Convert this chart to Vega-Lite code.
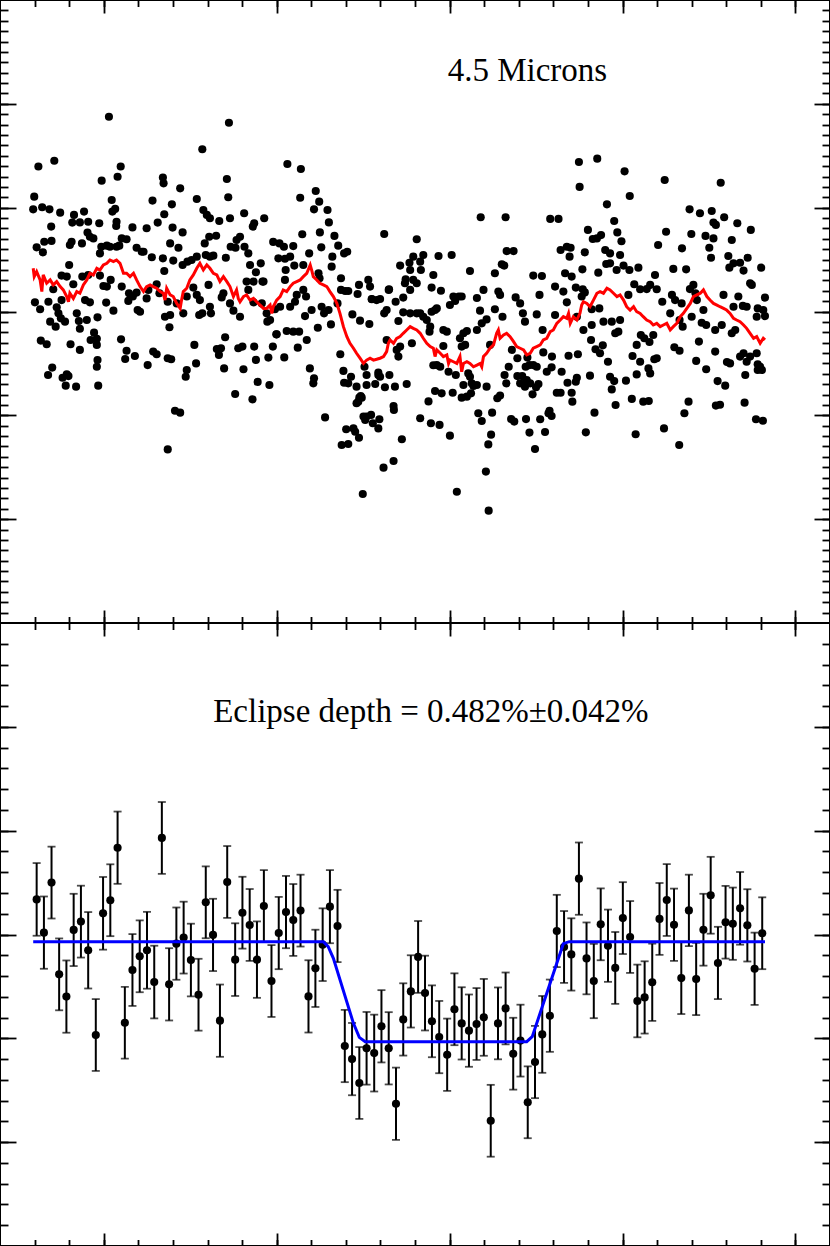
{
"$schema":"https://vega.github.io/schema/vega-lite/v6.json",
"padding":{"left":-2,"top":-2,"right":0,"bottom":0},
"background":"white",
"spacing":0,
"bounds":"flush",
"config":{"view":{"stroke":"black","strokeWidth":2},"axis":{"domain":false,"labels":false,"grid":false,"ticks":true,"tickColor":"black","tickWidth":1.8,"minExtent":0,"maxExtent":0,"titlePadding":0}},
"datasets":{
"top":[
{"phase":0.4015,"flux":9.38},{"phase":0.3811,"flux":6.98},{"phase":0.3857,"flux":7.26},{"phase":0.4285,"flux":7.81},{"phase":0.4362,"flux":9.09},{"phase":0.3994,"flux":6.30},{"phase":0.4040,"flux":6.49},{"phase":0.4049,"flux":6.98},{"phase":0.4171,"flux":6.45},{"phase":0.4173,"flux":6.17},{"phase":0.4221,"flux":5.93},{"phase":0.4356,"flux":6.38},{"phase":0.4531,"flux":7.10},{"phase":0.4570,"flux":6.86},{"phase":0.3799,"flux":5.53},{"phase":0.3796,"flux":4.92},{"phase":0.3822,"flux":5.02},{"phase":0.3843,"flux":4.92},{"phase":0.3874,"flux":4.76},{"phase":0.3943,"flux":4.81},{"phase":0.3914,"flux":4.65},{"phase":0.3909,"flux":4.28},{"phase":0.3931,"flux":4.29},{"phase":0.3955,"flux":4.32},{"phase":0.3987,"flux":4.25},{"phase":0.4023,"flux":5.37},{"phase":0.4033,"flux":4.94},{"phase":0.4025,"flux":4.81},{"phase":0.4037,"flux":4.32},{"phase":0.4036,"flux":4.12},{"phase":0.4083,"flux":4.05},{"phase":0.4124,"flux":4.01},{"phase":0.4141,"flux":5.34},{"phase":0.4156,"flux":4.28},{"phase":0.4175,"flux":4.68},{"phase":0.4197,"flux":5.16},{"phase":0.4199,"flux":4.04},{"phase":0.4228,"flux":3.81},{"phase":0.4269,"flux":5.42},{"phase":0.4288,"flux":4.89},{"phase":0.4298,"flux":4.65},{"phase":0.4307,"flux":4.49},{"phase":0.4334,"flux":4.36},{"phase":0.4360,"flux":5.50},{"phase":0.4365,"flux":4.49},{"phase":0.4406,"flux":4.73},{"phase":0.4435,"flux":4.25},{"phase":0.4431,"flux":4.09},{"phase":0.4464,"flux":4.49},{"phase":0.4568,"flux":5.48},{"phase":0.4613,"flux":5.80},{"phase":0.4623,"flux":5.29},{"phase":0.4608,"flux":4.92},{"phase":0.4647,"flux":4.89},{"phase":0.4651,"flux":4.29},{"phase":0.4625,"flux":3.81},{"phase":0.4574,"flux":3.72},{"phase":0.4667,"flux":3.64},{"phase":0.3848,"flux":4.09},{"phase":0.3849,"flux":3.40},{"phase":0.3828,"flux":3.36},{"phase":0.3806,"flux":3.09},{"phase":0.3824,"flux":2.85},{"phase":0.3902,"flux":3.20},{"phase":0.3907,"flux":3.36},{"phase":0.3937,"flux":3.28},{"phase":0.3953,"flux":3.80},{"phase":0.3970,"flux":3.52},{"phase":0.3960,"flux":3.60},{"phase":0.3989,"flux":2.80},{"phase":0.3993,"flux":3.12},{"phase":0.4009,"flux":3.17},{"phase":0.4018,"flux":3.12},{"phase":0.4037,"flux":3.12},{"phase":0.4045,"flux":3.17},{"phase":0.4052,"flux":3.52},{"phase":0.4066,"flux":3.48},{"phase":0.4095,"flux":3.07},{"phase":0.4110,"flux":2.88},{"phase":0.4139,"flux":2.61},{"phase":0.4115,"flux":2.88},{"phase":0.4171,"flux":2.56},{"phase":0.4175,"flux":1.95},{"phase":0.4201,"flux":2.45},{"phase":0.4192,"flux":3.28},{"phase":0.4216,"flux":3.07},{"phase":0.4228,"flux":2.24},{"phase":0.4242,"flux":2.40},{"phase":0.4254,"flux":2.48},{"phase":0.4269,"flux":2.64},{"phase":0.4292,"flux":3.28},{"phase":0.4305,"flux":3.60},{"phase":0.4325,"flux":3.65},{"phase":0.4295,"flux":2.72},{"phase":0.4307,"flux":2.64},{"phase":0.4317,"flux":2.69},{"phase":0.4353,"flux":2.59},{"phase":0.4367,"flux":3.12},{"phase":0.4384,"flux":3.44},{"phase":0.4381,"flux":3.07},{"phase":0.4394,"flux":3.60},{"phase":0.4407,"flux":3.12},{"phase":0.4418,"flux":2.80},{"phase":0.4423,"flux":2.24},{"phase":0.4454,"flux":2.32},{"phase":0.4440,"flux":1.89},{"phase":0.4459,"flux":1.44},{"phase":0.4490,"flux":3.35},{"phase":0.4508,"flux":3.28},{"phase":0.4521,"flux":3.12},{"phase":0.4548,"flux":3.15},{"phase":0.4524,"flux":2.54},{"phase":0.4505,"flux":2.56},{"phase":0.4539,"flux":2.64},{"phase":0.4526,"flux":2.00},{"phase":0.4551,"flux":2.21},{"phase":0.4577,"flux":2.24},{"phase":0.4594,"flux":2.80},{"phase":0.4629,"flux":3.09},{"phase":0.4661,"flux":2.64},{"phase":0.4678,"flux":3.17},{"phase":0.4704,"flux":2.88},{"phase":0.4695,"flux":2.80},{"phase":0.4686,"flux":1.60},{"phase":0.4698,"flux":0.99},{"phase":0.4659,"flux":2.16},{"phase":0.4624,"flux":1.60},{"phase":0.4738,"flux":1.28},{"phase":0.4734,"flux":0.84},{"phase":0.4765,"flux":1.52},{"phase":0.4770,"flux":1.20},{"phase":0.4775,"flux":0.60},{"phase":0.4799,"flux":0.60},{"phase":0.4824,"flux":1.04},{"phase":0.4811,"flux":3.73},{"phase":0.4857,"flux":2.21},{"phase":0.4873,"flux":1.55},{"phase":0.4884,"flux":2.35},{"phase":0.4871,"flux":1.36},
{"phase":0.3801,"flux":0.44},{"phase":0.3816,"flux":0.11},{"phase":0.3840,"flux":0.47},{"phase":0.3854,"flux":1.07},{"phase":0.3864,"flux":0.20},{"phase":0.3869,"flux":-0.09},{"phase":0.3876,"flux":-0.33},{"phase":0.3888,"flux":-0.49},{"phase":0.3861,"flux":-0.73},{"phase":0.3845,"flux":-0.49},{"phase":0.3878,"flux":0.55},{"phase":0.3900,"flux":2.24},{"phase":0.3878,"flux":1.73},{"phase":0.3893,"flux":1.68},{"phase":0.3912,"flux":1.31},{"phase":0.3922,"flux":-0.09},{"phase":0.3928,"flux":-0.46},{"phase":0.3931,"flux":-0.83},{"phase":0.3951,"flux":-0.41},{"phase":0.3946,"flux":0.55},{"phase":0.3960,"flux":0.44},{"phase":0.3938,"flux":1.68},{"phase":0.3955,"flux":1.76},{"phase":0.3989,"flux":1.73},{"phase":0.3999,"flux":1.23},{"phase":0.4009,"flux":1.20},{"phase":0.4020,"flux":1.52},{"phase":0.4007,"flux":0.43},{"phase":0.4028,"flux":0.04},{"phase":0.3982,"flux":-0.28},{"phase":0.3972,"flux":-1.02},{"phase":0.3980,"flux":-1.31},{"phase":0.4052,"flux":1.20},{"phase":0.4073,"flux":0.88},{"phase":0.4071,"flux":0.51},{"phase":0.4084,"flux":0.72},{"phase":0.4095,"flux":0.91},{"phase":0.4098,"flux":0.07},{"phase":0.4105,"flux":-0.01},{"phase":0.4124,"flux":0.63},{"phase":0.4129,"flux":1.04},{"phase":0.4153,"flux":1.31},{"phase":0.4161,"flux":0.88},{"phase":0.4185,"flux":0.47},{"phase":0.4211,"flux":0.39},{"phase":0.4230,"flux":-0.09},{"phase":0.4177,"flux":-0.25},{"phase":0.4192,"flux":-0.17},{"phase":0.4190,"flux":-0.76},{"phase":0.4240,"flux":0.72},{"phase":0.4259,"flux":1.15},{"phase":0.4269,"flux":0.80},{"phase":0.4278,"flux":0.55},{"phase":0.4285,"flux":-0.09},{"phase":0.4276,"flux":-0.17},{"phase":0.4307,"flux":0.23},{"phase":0.4310,"flux":-0.09},{"phase":0.4303,"flux":1.28},{"phase":0.4341,"flux":0.68},{"phase":0.4346,"flux":0.88},{"phase":0.4365,"flux":0.39},{"phase":0.4394,"flux":-0.25},{"phase":0.4375,"flux":0.04},{"phase":0.4413,"flux":1.44},{"phase":0.4433,"flux":1.44},{"phase":0.4418,"flux":1.04},{"phase":0.4433,"flux":0.44},{"phase":0.4462,"flux":1.44},{"phase":0.4457,"flux":0.39},{"phase":0.4471,"flux":-0.09},{"phase":0.4473,"flux":-0.49},{"phase":0.4481,"flux":-0.41},{"phase":0.4495,"flux":0.11},{"phase":0.4510,"flux":0.23},{"phase":0.4524,"flux":1.52},{"phase":0.4558,"flux":0.80},{"phase":0.4553,"flux":0.47},{"phase":0.4539,"flux":0.23},{"phase":0.4577,"flux":1.04},{"phase":0.4585,"flux":0.72},{"phase":0.4582,"flux":-0.22},{"phase":0.4601,"flux":0.07},{"phase":0.4548,"flux":-0.97},{"phase":0.4529,"flux":-0.94},{"phase":0.4565,"flux":-0.97},{"phase":0.4500,"flux":-1.10},{"phase":0.4621,"flux":1.84},{"phase":0.4630,"flux":0.23},{"phase":0.4637,"flux":-0.09},{"phase":0.4650,"flux":0.07},{"phase":0.4657,"flux":-0.62},{"phase":0.4676,"flux":0.39},{"phase":0.4686,"flux":1.04},{"phase":0.4707,"flux":0.99},{"phase":0.4719,"flux":-0.14},{"phase":0.4741,"flux":-0.44},{"phase":0.4768,"flux":-0.60},{"phase":0.4775,"flux":0.59},{"phase":0.4789,"flux":0.55},{"phase":0.4811,"flux":-0.09},{"phase":0.4818,"flux":0.07},{"phase":0.4825,"flux":1.07},{"phase":0.4852,"flux":-0.46},{"phase":0.4866,"flux":-0.04},{"phase":0.4886,"flux":-0.09},{"phase":0.4844,"flux":0.47},{"phase":0.4866,"flux":0.67},
{"phase":0.3818,"flux":-1.40},{"phase":0.3835,"flux":-1.58},{"phase":0.3904,"flux":-1.58},{"phase":0.3931,"flux":-1.85},{"phase":0.3962,"flux":-1.37},{"phase":0.3980,"flux":-1.61},{"phase":0.4050,"flux":-1.34},{"phase":0.4066,"flux":-1.89},{"phase":0.4062,"flux":-2.29},{"phase":0.4090,"flux":-2.14},{"phase":0.4127,"flux":-2.58},{"phase":0.4143,"flux":-1.93},{"phase":0.4153,"flux":-2.06},{"phase":0.4185,"flux":-2.25},{"phase":0.4195,"flux":-2.30},{"phase":0.4262,"flux":-1.61},{"phase":0.4267,"flux":-2.50},{"phase":0.4240,"flux":-2.82},{"phase":0.4237,"flux":-3.14},{"phase":0.4327,"flux":-1.81},{"phase":0.4333,"flux":-2.09},{"phase":0.4339,"flux":-1.77},{"phase":0.4348,"flux":-2.74},{"phase":0.4351,"flux":-1.24},{"phase":0.4389,"flux":-1.77},{"phase":0.4401,"flux":-1.69},{"phase":0.4404,"flux":-2.78},{"phase":0.4435,"flux":-1.69},{"phase":0.4440,"flux":-2.33},{"phase":0.4476,"flux":-2.22},{"phase":0.4479,"flux":-3.54},{"phase":0.4489,"flux":-1.69},{"phase":0.4499,"flux":-1.10},{"phase":0.4522,"flux":-2.21},{"phase":0.4561,"flux":-1.74},{"phase":0.4587,"flux":-1.37},{"phase":0.4596,"flux":-2.74},{"phase":0.4608,"flux":-3.22},{"phase":0.4606,"flux":-3.46},{"phase":0.4619,"flux":-0.78},{"phase":0.4684,"flux":-2.06},{"phase":0.4693,"flux":-2.86},{"phase":0.4695,"flux":-3.43},{"phase":0.4715,"flux":-3.14},{"phase":0.4731,"flux":-3.62},{"phase":0.4707,"flux":-3.46},{"phase":0.4739,"flux":-4.15},{"phase":0.4743,"flux":-4.07},{"phase":0.4760,"flux":-3.54},{"phase":0.4785,"flux":-3.49},{"phase":0.4794,"flux":-3.06},{"phase":0.4813,"flux":-3.65},{"phase":0.4826,"flux":-3.06},{"phase":0.4842,"flux":-3.62},{"phase":0.4876,"flux":-3.49},{"phase":0.4857,"flux":-1.69},{"phase":0.4847,"flux":-1.85},{"phase":0.4852,"flux":-2.17},{"phase":0.4891,"flux":-1.53},{"phase":0.4818,"flux":-1.37},{"phase":0.4754,"flux":-2.66},{"phase":0.4760,"flux":-3.06},{"phase":0.4794,"flux":-2.94},{"phase":0.4799,"flux":-3.14},{"phase":0.3839,"flux":-3.06},{"phase":0.3851,"flux":-2.70},{"phase":0.3881,"flux":-3.19},{"phase":0.3893,"flux":-3.03},{"phase":0.3898,"flux":-3.11},{"phase":0.3890,"flux":-3.57},{"phase":0.3920,"flux":-3.62},{"phase":0.3984,"flux":-3.57},{"phase":0.3980,"flux":-2.66},{"phase":0.3982,"flux":-2.34},{"phase":0.4206,"flux":-4.78},{"phase":0.4221,"flux":-4.87},{"phase":0.4185,"flux":-6.64},{"phase":0.4380,"flux":-3.97},{"phase":0.4430,"flux":-4.23},{"phase":0.4445,"flux":-3.39},{"phase":0.4640,"flux":-5.10},{"phase":0.4688,"flux":-6.43},{"phase":0.4707,"flux":-6.38},{"phase":0.4701,"flux":-5.67},{"phase":0.4722,"flux":-5.63},{"phase":0.4727,"flux":-5.79},{"phase":0.4738,"flux":-6.08},{"phase":0.4751,"flux":-5.06},{"phase":0.4756,"flux":-5.22},{"phase":0.4760,"flux":-5.06},{"phase":0.4773,"flux":-4.98},{"phase":0.4778,"flux":-5.38},{"phase":0.4794,"flux":-5.63},{"phase":0.4797,"flux":-5.19},{"phase":0.4736,"flux":-4.34},{"phase":0.4731,"flux":-4.42},{"phase":0.4746,"flux":-4.15},{"phase":0.4838,"flux":-4.55},{"phase":0.4839,"flux":-4.74},{"phase":0.4862,"flux":-6.15},{"phase":0.4838,"flux":-7.20},{"phase":0.4809,"flux":-7.52},{"phase":0.4749,"flux":-8.79},
{"phase":0.5374,"flux":7.20},{"phase":0.5427,"flux":7.36},{"phase":0.5506,"flux":6.75},{"phase":0.5376,"flux":6.00},{"phase":0.5455,"flux":5.16},{"phase":0.5521,"flux":5.56},{"phase":0.5622,"flux":6.33},{"phase":0.5784,"flux":6.20},{"phase":0.5090,"flux":4.54},{"phase":0.5162,"flux":4.54},{"phase":0.5291,"flux":4.46},{"phase":0.5315,"flux":4.46},{"phase":0.5694,"flux":4.92},{"phase":0.5724,"flux":4.73},{"phase":0.5758,"flux":4.84},{"phase":0.5794,"flux":4.54},{"phase":0.5763,"flux":4.28},{"phase":0.5770,"flux":4.17},{"phase":0.5832,"flux":4.25},{"phase":0.5871,"flux":3.93},{"phase":0.4905,"flux":3.48},{"phase":0.5476,"flux":4.36},{"phase":0.5485,"flux":3.81},{"phase":0.5400,"flux":3.93},{"phase":0.5414,"flux":3.49},{"phase":0.5438,"flux":3.68},{"phase":0.5497,"flux":3.38},{"phase":0.5450,"flux":2.96},{"phase":0.5464,"flux":2.80},{"phase":0.5493,"flux":2.72},{"phase":0.5464,"flux":2.32},{"phase":0.5453,"flux":2.29},{"phase":0.5603,"flux":3.20},{"phase":0.5626,"flux":3.84},{"phase":0.5699,"flux":3.73},{"phase":0.5740,"flux":3.64},{"phase":0.5763,"flux":3.52},{"phase":0.5816,"flux":3.44},{"phase":0.5751,"flux":3.07},{"phase":0.5756,"flux":2.59},{"phase":0.5672,"flux":3.04},{"phase":0.5806,"flux":2.67},{"phase":0.5821,"flux":2.32},{"phase":0.5840,"flux":2.35},{"phase":0.5862,"flux":2.59},{"phase":0.5850,"flux":1.97},{"phase":0.5809,"flux":2.11},{"phase":0.5901,"flux":2.11},{"phase":0.5321,"flux":2.96},{"phase":0.5339,"flux":3.12},{"phase":0.5347,"flux":2.64},{"phase":0.5350,"flux":3.07},{"phase":0.5391,"flux":2.85},{"phase":0.5384,"flux":2.03},{"phase":0.5426,"flux":3.52},{"phase":0.5430,"flux":1.87},{"phase":0.5483,"flux":2.00},{"phase":0.5503,"flux":2.21},{"phase":0.5520,"flux":2.00},{"phase":0.5546,"flux":2.11},{"phase":0.5165,"flux":2.91},{"phase":0.5185,"flux":2.91},{"phase":0.4968,"flux":2.67},{"phase":0.5006,"flux":2.72},{"phase":0.4924,"flux":2.72},{"phase":0.4895,"flux":2.64},{"phase":0.4915,"flux":2.40},{"phase":0.4917,"flux":2.00},{"phase":0.4953,"flux":1.76},{"phase":0.4975,"flux":1.00},{"phase":0.4948,"flux":1.15},{"phase":0.4895,"flux":1.52},{"phase":0.4905,"flux":1.36},{"phase":0.4886,"flux":2.00},{"phase":0.4886,"flux":1.04},{"phase":0.5059,"flux":1.95},{"phase":0.5131,"flux":1.84},{"phase":0.5151,"flux":2.27},{"phase":0.5158,"flux":2.21},{"phase":0.5098,"flux":1.04},{"phase":0.5079,"flux":0.65},{"phase":0.5088,"flux":0.04},{"phase":0.5107,"flux":-0.38},{"phase":0.5093,"flux":-0.57},{"phase":0.5079,"flux":-0.89},{"phase":0.5131,"flux":0.11},{"phase":0.5146,"flux":0.80},{"phase":0.5141,"flux":0.96},{"phase":0.5027,"flux":0.72},{"phase":0.5016,"flux":0.51},{"phase":0.5011,"flux":0.72},{"phase":0.5035,"flux":0.72},{"phase":0.5001,"flux":0.31},{"phase":0.4958,"flux":0.07},{"phase":0.4948,"flux":-0.01},{"phase":0.4963,"flux":0.15},{"phase":0.4924,"flux":-0.25},{"phase":0.4934,"flux":-0.41},{"phase":0.4944,"flux":-0.73},{"phase":0.4942,"flux":-0.97},{"phase":0.4915,"flux":-0.09},{"phase":0.4905,"flux":-0.09},{"phase":0.4992,"flux":-0.97},{"phase":0.4982,"flux":-0.89},{"phase":0.5050,"flux":-0.94},{"phase":0.5040,"flux":-1.05},{"phase":0.5030,"flux":-1.29},{"phase":0.5045,"flux":-1.61},{"phase":0.5035,"flux":-1.69},{"phase":0.5117,"flux":-1.61},{"phase":0.5153,"flux":-0.25},{"phase":0.5191,"flux":0.68},{"phase":0.5204,"flux":0.39},{"phase":0.5212,"flux":-0.09},{"phase":0.5218,"flux":-0.49},{"phase":0.5242,"flux":1.73},{"phase":0.5267,"flux":1.71},{"phase":0.5260,"flux":0.80},{"phase":0.5252,"flux":-0.14},{"phase":0.5269,"flux":-0.89},{"phase":0.5305,"flux":-0.17},{"phase":0.5305,"flux":1.20},{"phase":0.5329,"flux":0.96},{"phase":0.5339,"flux":0.44},{"phase":0.5334,"flux":1.84},{"phase":0.5353,"flux":1.68},{"phase":0.5365,"flux":1.15},{"phase":0.5385,"flux":1.07},{"phase":0.5391,"flux":0.92},{"phase":0.5382,"flux":0.72},{"phase":0.5368,"flux":-0.25},{"phase":0.5387,"flux":-0.89},{"phase":0.5411,"flux":-0.65},{"phase":0.5409,"flux":-1.37},{"phase":0.5422,"flux":-1.82},{"phase":0.5435,"flux":-2.01},{"phase":0.5443,"flux":-1.63},{"phase":0.5458,"flux":-2.42},{"phase":0.5411,"flux":0.11},{"phase":0.5433,"flux":0.15},{"phase":0.5445,"flux":-0.49},{"phase":0.5469,"flux":-0.49},{"phase":0.5479,"flux":-1.05},{"phase":0.5488,"flux":-0.97},{"phase":0.5493,"flux":-0.41},{"phase":0.5517,"flux":0.80},{"phase":0.5534,"flux":1.31},{"phase":0.5551,"flux":1.07},{"phase":0.5570,"flux":1.08},{"phase":0.5594,"flux":1.76},{"phase":0.5580,"flux":1.28},{"phase":0.5599,"flux":1.07},{"phase":0.5615,"flux":0.47},{"phase":0.5647,"flux":2.05},{"phase":0.5684,"flux":2.03},{"phase":0.5695,"flux":1.08},{"phase":0.5705,"flux":1.28},{"phase":0.5711,"flux":0.88},{"phase":0.5715,"flux":0.55},{"phase":0.5652,"flux":0.55},{"phase":0.5671,"flux":0.39},{"phase":0.5643,"flux":0.80},{"phase":0.5638,"flux":-0.09},{"phase":0.5665,"flux":-0.41},{"phase":0.5674,"flux":-0.73},{"phase":0.5700,"flux":-0.25},{"phase":0.5729,"flux":-0.54},{"phase":0.5734,"flux":0.07},{"phase":0.5742,"flux":-0.65},{"phase":0.5768,"flux":-0.89},{"phase":0.5787,"flux":-0.65},{"phase":0.5792,"flux":0.80},{"phase":0.5835,"flux":0.72},{"phase":0.5821,"flux":0.23},{"phase":0.5848,"flux":0.27},{"phase":0.5859,"flux":0.23},{"phase":0.5869,"flux":1.36},{"phase":0.5874,"flux":1.28},{"phase":0.5816,"flux":-1.05},{"phase":0.5826,"flux":-0.89},{"phase":0.5891,"flux":0.15},{"phase":0.5907,"flux":0.07},{"phase":0.5912,"flux":0.67},{"phase":0.5912,"flux":-0.22},{"phase":0.5888,"flux":-0.25},
{"phase":0.5541,"flux":-1.61},{"phase":0.5563,"flux":-1.29},{"phase":0.5553,"flux":-1.13},{"phase":0.5578,"flux":-1.47},{"phase":0.5589,"flux":-1.13},{"phase":0.5529,"flux":-2.14},{"phase":0.5551,"flux":-2.42},{"phase":0.5592,"flux":-2.30},{"phase":0.5599,"flux":-2.25},{"phase":0.5650,"flux":-1.72},{"phase":0.5665,"flux":-1.89},{"phase":0.5721,"flux":-1.45},{"phase":0.5768,"flux":-1.93},{"phase":0.5802,"flux":-2.43},{"phase":0.5811,"flux":-2.50},{"phase":0.5840,"flux":-2.17},{"phase":0.5850,"flux":-2.01},{"phase":0.5859,"flux":-2.42},{"phase":0.5869,"flux":-2.17},{"phase":0.5888,"flux":-2.01},{"phase":0.5891,"flux":-2.54},{"phase":0.5898,"flux":-2.66},{"phase":0.5891,"flux":-2.82},{"phase":0.5903,"flux":-2.82},{"phase":0.5855,"flux":-3.06},{"phase":0.5797,"flux":-3.57},{"phase":0.5775,"flux":-3.35},{"phase":0.5713,"flux":-2.38},{"phase":0.5742,"flux":-2.78},{"phase":0.5580,"flux":-2.98},{"phase":0.5575,"flux":-2.74},{"phase":0.5541,"flux":-3.03},{"phase":0.5510,"flux":-3.33},{"phase":0.5476,"flux":-3.35},{"phase":0.5464,"flux":-3.14},{"phase":0.5469,"flux":-3.75},{"phase":0.5527,"flux":-4.21},{"phase":0.5560,"flux":-4.34},{"phase":0.5576,"flux":-4.31},{"phase":0.5691,"flux":-4.34},{"phase":0.5679,"flux":-4.90},{"phase":0.5770,"flux":-4.53},{"phase":0.5782,"flux":-4.49},{"phase":0.5853,"flux":-4.39},{"phase":0.5886,"flux":-5.19},{"phase":0.5906,"flux":-5.26},{"phase":0.5620,"flux":-5.63},{"phase":0.5664,"flux":-6.43},{"phase":0.5538,"flux":-5.91},{"phase":0.5480,"flux":-4.50},{"phase":0.5419,"flux":-4.87},{"phase":0.5406,"flux":-3.09},{"phase":0.5394,"flux":-5.82},{"phase":0.5344,"flux":-2.13},{"phase":0.5371,"flux":-2.06},{"phase":0.5324,"flux":-2.90},{"phase":0.5341,"flux":-3.43},{"phase":0.5365,"flux":-3.38},{"phase":0.5368,"flux":-3.19},{"phase":0.5353,"flux":-3.91},{"phase":0.5355,"flux":-4.34},{"phase":0.5310,"flux":-3.91},{"phase":0.5321,"flux":-3.91},{"phase":0.5296,"flux":-2.17},{"phase":0.5281,"flux":-2.90},{"phase":0.5271,"flux":-1.97},{"phase":0.5295,"flux":-2.69},{"phase":0.5257,"flux":-3.49},{"phase":0.5250,"flux":-3.65},{"phase":0.5240,"flux":-3.99},{"phase":0.5233,"flux":-3.46},{"phase":0.5223,"flux":-3.30},{"phase":0.5210,"flux":-3.11},{"phase":0.5196,"flux":-3.11},{"phase":0.5204,"flux":-3.46},{"phase":0.5218,"flux":-3.62},{"phase":0.5220,"flux":-2.66},{"phase":0.5231,"flux":-2.58},{"phase":0.5242,"flux":-2.58},{"phase":0.5252,"flux":-2.66},{"phase":0.5225,"flux":-2.22},{"phase":0.5196,"flux":-2.25},{"phase":0.5180,"flux":-1.85},{"phase":0.5171,"flux":-2.66},{"phase":0.5159,"flux":-3.06},{"phase":0.5164,"flux":-3.46},{"phase":0.5146,"flux":-4.05},{"phase":0.5138,"flux":-4.18},{"phase":0.5107,"flux":-3.62},{"phase":0.5079,"flux":-3.54},{"phase":0.5069,"flux":-3.59},{"phase":0.5059,"flux":-3.14},{"phase":0.5054,"flux":-2.98},{"phase":0.5064,"flux":-3.46},{"phase":0.5040,"flux":-3.54},{"phase":0.5050,"flux":-4.10},{"phase":0.5062,"flux":-3.94},{"phase":0.5035,"flux":-4.15},{"phase":0.5009,"flux":-3.91},{"phase":0.5018,"flux":-3.06},{"phase":0.4997,"flux":-2.90},{"phase":0.4977,"flux":-3.94},{"phase":0.4958,"flux":-3.83},{"phase":0.4953,"flux":-2.59},{"phase":0.4963,"flux":-2.58},{"phase":0.4973,"flux":-2.66},{"phase":0.4982,"flux":-1.66},{"phase":0.4939,"flux":-4.33},{"phase":0.4915,"flux":-5.14},{"phase":0.4946,"flux":-5.38},{"phase":0.4971,"flux":-5.46},{"phase":0.5001,"flux":-5.98},{"phase":0.5083,"flux":-4.90},{"phase":0.5093,"flux":-5.27},{"phase":0.5123,"flux":-4.87},{"phase":0.5120,"flux":-5.93},{"phase":0.5112,"flux":-6.40},{"phase":0.5105,"flux":-7.71},{"phase":0.5021,"flux":-8.68},{"phase":0.5113,"flux":-9.59},{"phase":0.5178,"flux":-5.18},{"phase":0.5187,"flux":-5.30},{"phase":0.5221,"flux":-5.18},{"phase":0.5262,"flux":-5.19},{"phase":0.5289,"flux":-4.78},{"phase":0.5295,"flux":-5.03},{"phase":0.5276,"flux":-5.80},{"phase":0.5231,"flux":-5.83},{"phase":0.5247,"flux":-6.62},{"phase":0.5286,"flux":-4.90}
],
"red":[
{"phase":0.3796,"flux":2.08},{"phase":0.3799,"flux":1.68},{"phase":0.3806,"flux":1.92},{"phase":0.3816,"flux":1.52},{"phase":0.3821,"flux":0.96},{"phase":0.3825,"flux":1.76},{"phase":0.3835,"flux":1.36},{"phase":0.3845,"flux":1.52},{"phase":0.3854,"flux":1.28},{"phase":0.3864,"flux":1.44},{"phase":0.3874,"flux":1.20},{"phase":0.3883,"flux":1.04},{"phase":0.3893,"flux":0.72},{"phase":0.3898,"flux":0.47},{"phase":0.3902,"flux":0.88},{"phase":0.3912,"flux":0.63},{"phase":0.3922,"flux":0.96},{"phase":0.3931,"flux":0.88},{"phase":0.3941,"flux":1.28},{"phase":0.3951,"flux":1.52},{"phase":0.3960,"flux":1.84},{"phase":0.3970,"flux":1.76},{"phase":0.3980,"flux":2.08},{"phase":0.3989,"flux":2.00},{"phase":0.3999,"flux":2.24},{"phase":0.4009,"flux":2.32},{"phase":0.4018,"flux":2.48},{"phase":0.4028,"flux":2.40},{"phase":0.4037,"flux":2.48},{"phase":0.4047,"flux":2.32},{"phase":0.4052,"flux":2.08},{"phase":0.4057,"flux":1.84},{"phase":0.4066,"flux":1.84},{"phase":0.4076,"flux":1.68},{"phase":0.4086,"flux":1.84},{"phase":0.4095,"flux":1.52},{"phase":0.4105,"flux":1.20},{"phase":0.4115,"flux":0.96},{"phase":0.4124,"flux":1.20},{"phase":0.4134,"flux":1.28},{"phase":0.4143,"flux":1.20},{"phase":0.4153,"flux":1.12},{"phase":0.4163,"flux":0.96},{"phase":0.4172,"flux":0.88},{"phase":0.4177,"flux":0.55},{"phase":0.4182,"flux":1.12},{"phase":0.4192,"flux":0.80},{"phase":0.4201,"flux":0.72},{"phase":0.4211,"flux":0.39},{"phase":0.4221,"flux":0.15},{"phase":0.4225,"flux":0.55},{"phase":0.4230,"flux":0.96},{"phase":0.4240,"flux":1.12},{"phase":0.4249,"flux":1.52},{"phase":0.4259,"flux":1.76},{"phase":0.4269,"flux":2.08},{"phase":0.4278,"flux":2.32},{"phase":0.4288,"flux":2.00},{"phase":0.4298,"flux":2.24},{"phase":0.4307,"flux":2.08},{"phase":0.4317,"flux":1.84},{"phase":0.4327,"flux":1.76},{"phase":0.4336,"flux":1.44},{"phase":0.4346,"flux":1.68},{"phase":0.4356,"flux":1.44},{"phase":0.4365,"flux":1.20},{"phase":0.4375,"flux":0.72},{"phase":0.4384,"flux":1.04},{"phase":0.4389,"flux":0.63},{"phase":0.4394,"flux":0.47},{"phase":0.4404,"flux":0.72},{"phase":0.4413,"flux":0.80},{"phase":0.4423,"flux":0.55},{"phase":0.4433,"flux":0.63},{"phase":0.4442,"flux":0.47},{"phase":0.4452,"flux":0.31},{"phase":0.4462,"flux":0.15},{"phase":0.4471,"flux":0.15},{"phase":0.4481,"flux":0.31},{"phase":0.4486,"flux":-0.09},{"phase":0.4490,"flux":0.23},{"phase":0.4500,"flux":0.55},{"phase":0.4510,"flux":0.72},{"phase":0.4519,"flux":1.04},{"phase":0.4529,"flux":0.96},{"phase":0.4539,"flux":1.20},{"phase":0.4548,"flux":1.36},{"phase":0.4558,"flux":1.44},{"phase":0.4568,"flux":1.52},{"phase":0.4577,"flux":1.68},{"phase":0.4587,"flux":1.84},{"phase":0.4597,"flux":2.24},{"phase":0.4601,"flux":2.00},{"phase":0.4606,"flux":1.68},{"phase":0.4616,"flux":1.52},{"phase":0.4625,"flux":1.36},{"phase":0.4635,"flux":1.28},{"phase":0.4645,"flux":1.20},{"phase":0.4654,"flux":0.96},{"phase":0.4664,"flux":0.72},{"phase":0.4674,"flux":0.39},{"phase":0.4683,"flux":-0.09},{"phase":0.4693,"flux":-0.73},{"phase":0.4703,"flux":-1.21},{"phase":0.4712,"flux":-1.53},{"phase":0.4722,"flux":-1.77},{"phase":0.4731,"flux":-2.01},{"phase":0.4741,"flux":-2.25},{"phase":0.4751,"flux":-2.50},{"phase":0.4760,"flux":-2.34},{"phase":0.4770,"flux":-2.25},{"phase":0.4780,"flux":-2.34},{"phase":0.4789,"flux":-2.30},{"phase":0.4799,"flux":-2.25},{"phase":0.4809,"flux":-2.17},{"phase":0.4818,"flux":-1.93},{"phase":0.4823,"flux":-1.53},{"phase":0.4828,"flux":-1.37},{"phase":0.4838,"flux":-1.53},{"phase":0.4847,"flux":-1.29},{"phase":0.4857,"flux":-1.21},{"phase":0.4866,"flux":-1.05},{"phase":0.4876,"flux":-0.89},{"phase":0.4886,"flux":-0.73},{"phase":0.4895,"flux":-0.81},{"phase":0.4905,"flux":-0.89},{"phase":0.4915,"flux":-1.05},{"phase":0.4924,"flux":-1.29},{"phase":0.4934,"flux":-1.53},{"phase":0.4944,"flux":-1.69},{"phase":0.4953,"flux":-1.77},{"phase":0.4958,"flux":-2.17},{"phase":0.4963,"flux":-1.85},{"phase":0.4973,"flux":-2.01},{"phase":0.4982,"flux":-2.17},{"phase":0.4992,"flux":-2.09},{"phase":0.4997,"flux":-2.50},{"phase":0.5001,"flux":-2.34},{"phase":0.5011,"flux":-2.42},{"phase":0.5021,"flux":-2.50},{"phase":0.5030,"flux":-2.17},{"phase":0.5035,"flux":-2.90},{"phase":0.5040,"flux":-2.50},{"phase":0.5050,"flux":-2.42},{"phase":0.5059,"flux":-2.50},{"phase":0.5069,"flux":-2.66},{"phase":0.5079,"flux":-2.58},{"phase":0.5088,"flux":-2.50},{"phase":0.5093,"flux":-2.66},{"phase":0.5098,"flux":-2.17},{"phase":0.5107,"flux":-2.01},{"phase":0.5117,"flux":-1.77},{"phase":0.5127,"flux":-1.61},{"phase":0.5136,"flux":-1.05},{"phase":0.5141,"flux":-0.89},{"phase":0.5146,"flux":-1.29},{"phase":0.5156,"flux":-1.13},{"phase":0.5165,"flux":-1.05},{"phase":0.5175,"flux":-1.21},{"phase":0.5185,"flux":-1.45},{"phase":0.5194,"flux":-1.69},{"phase":0.5204,"flux":-1.77},{"phase":0.5214,"flux":-1.85},{"phase":0.5223,"flux":-2.09},{"phase":0.5233,"flux":-2.01},{"phase":0.5242,"flux":-1.77},{"phase":0.5252,"flux":-1.69},{"phase":0.5262,"flux":-1.61},{"phase":0.5271,"flux":-1.37},{"phase":0.5281,"flux":-1.29},{"phase":0.5291,"flux":-0.97},{"phase":0.5300,"flux":-0.89},{"phase":0.5310,"flux":-0.57},{"phase":0.5320,"flux":-0.41},{"phase":0.5329,"flux":-0.25},{"phase":0.5339,"flux":-0.33},{"phase":0.5344,"flux":-0.09},{"phase":0.5349,"flux":-0.57},{"phase":0.5358,"flux":-0.25},{"phase":0.5368,"flux":-0.41},{"phase":0.5377,"flux":-0.09},{"phase":0.5382,"flux":0.31},{"phase":0.5387,"flux":0.47},{"phase":0.5397,"flux":0.39},{"phase":0.5406,"flux":0.23},{"phase":0.5416,"flux":0.55},{"phase":0.5426,"flux":0.88},{"phase":0.5435,"flux":0.96},{"phase":0.5445,"flux":0.88},{"phase":0.5455,"flux":1.12},{"phase":0.5464,"flux":1.04},{"phase":0.5474,"flux":0.88},{"phase":0.5484,"flux":0.72},{"phase":0.5493,"flux":0.80},{"phase":0.5503,"flux":0.55},{"phase":0.5512,"flux":0.23},{"phase":0.5522,"flux":0.07},{"phase":0.5532,"flux":0.23},{"phase":0.5541,"flux":-0.01},{"phase":0.5551,"flux":-0.09},{"phase":0.5560,"flux":-0.25},{"phase":0.5570,"flux":-0.41},{"phase":0.5580,"flux":-0.49},{"phase":0.5589,"flux":-0.65},{"phase":0.5599,"flux":-0.57},{"phase":0.5609,"flux":-0.73},{"phase":0.5618,"flux":-0.65},{"phase":0.5628,"flux":-0.57},{"phase":0.5638,"flux":-0.89},{"phase":0.5647,"flux":-0.73},{"phase":0.5657,"flux":-0.57},{"phase":0.5667,"flux":-0.25},{"phase":0.5676,"flux":-0.09},{"phase":0.5686,"flux":0.15},{"phase":0.5696,"flux":0.39},{"phase":0.5705,"flux":0.72},{"phase":0.5715,"flux":0.80},{"phase":0.5725,"flux":0.88},{"phase":0.5734,"flux":1.04},{"phase":0.5744,"flux":0.72},{"phase":0.5753,"flux":0.55},{"phase":0.5763,"flux":0.39},{"phase":0.5773,"flux":0.31},{"phase":0.5782,"flux":0.23},{"phase":0.5792,"flux":0.15},{"phase":0.5801,"flux":0.07},{"phase":0.5811,"flux":-0.09},{"phase":0.5821,"flux":-0.33},{"phase":0.5830,"flux":-0.41},{"phase":0.5840,"flux":-0.49},{"phase":0.5850,"flux":-0.65},{"phase":0.5859,"flux":-0.81},{"phase":0.5869,"flux":-1.05},{"phase":0.5879,"flux":-1.29},{"phase":0.5888,"flux":-1.21},{"phase":0.5898,"flux":-1.53},{"phase":0.5907,"flux":-1.29},{"phase":0.5912,"flux":-1.37}
],
"bins":[
{"phase":0.3806,"flux":1.69,"err":1.75},{"phase":0.3827,"flux":0.09,"err":1.74},{"phase":0.3849,"flux":2.50,"err":1.73},{"phase":0.3871,"flux":-1.92,"err":1.73},{"phase":0.3892,"flux":-2.99,"err":1.74},{"phase":0.3913,"flux":0.22,"err":1.74},{"phase":0.3934,"flux":0.62,"err":1.73},{"phase":0.3955,"flux":-0.76,"err":1.84},{"phase":0.3977,"flux":-4.84,"err":1.73},{"phase":0.3998,"flux":1.02,"err":1.75},{"phase":0.4019,"flux":1.65,"err":1.73},{"phase":0.4040,"flux":4.18,"err":1.74},{"phase":0.4061,"flux":-4.25,"err":1.73},{"phase":0.4083,"flux":-1.71,"err":1.73},{"phase":0.4104,"flux":-1.05,"err":1.73},{"phase":0.4125,"flux":-0.76,"err":1.85},{"phase":0.4146,"flux":-2.29,"err":1.75},{"phase":0.4168,"flux":4.65,"err":1.73},{"phase":0.4189,"flux":-2.40,"err":1.74},{"phase":0.4210,"flux":-0.44,"err":1.74},{"phase":0.4231,"flux":-0.15,"err":1.73},{"phase":0.4252,"flux":-1.23,"err":1.75},{"phase":0.4274,"flux":-2.90,"err":1.73},{"phase":0.4295,"flux":1.55,"err":1.73},{"phase":0.4316,"flux":-0.02,"err":1.74},{"phase":0.4336,"flux":-4.15,"err":1.74},{"phase":0.4357,"flux":2.53,"err":1.73},{"phase":0.4380,"flux":-1.21,"err":1.75},{"phase":0.4401,"flux":1.05,"err":1.73},{"phase":0.4422,"flux":0.46,"err":1.73},{"phase":0.4443,"flux":-1.21,"err":1.84},{"phase":0.4463,"flux":1.37,"err":1.73},{"phase":0.4485,"flux":-2.24,"err":1.73},{"phase":0.4506,"flux":0.07,"err":1.74},{"phase":0.4527,"flux":1.08,"err":1.74},{"phase":0.4548,"flux":0.70,"err":1.73},{"phase":0.4569,"flux":1.15,"err":1.73},{"phase":0.4592,"flux":-2.98,"err":1.74},{"phase":0.4612,"flux":-1.63,"err":1.86},{"phase":0.4633,"flux":-0.49,"err":1.75},{"phase":0.4654,"flux":1.34,"err":1.76},{"phase":0.4676,"flux":0.41,"err":1.74},{"phase":0.4697,"flux":-5.37,"err":1.74},{"phase":0.4718,"flux":-6.00,"err":1.74},{"phase":0.4739,"flux":-7.15,"err":1.73},{"phase":0.4760,"flux":-5.48,"err":1.75},{"phase":0.4782,"flux":-5.71,"err":1.85},{"phase":0.4803,"flux":-4.42,"err":1.74},{"phase":0.4824,"flux":-5.48,"err":1.74},{"phase":0.4845,"flux":-8.15,"err":1.74},{"phase":0.4866,"flux":-4.09,"err":1.74},{"phase":0.4888,"flux":-2.74,"err":1.74},
{"phase":0.4909,"flux":-1.08,"err":1.73},{"phase":0.4929,"flux":-2.82,"err":1.80},{"phase":0.4949,"flux":-4.18,"err":1.73},{"phase":0.4970,"flux":-4.94,"err":1.74},{"phase":0.4993,"flux":-5.79,"err":1.74},{"phase":0.5014,"flux":-3.60,"err":1.73},{"phase":0.5035,"flux":-4.28,"err":1.74},{"phase":0.5056,"flux":-4.63,"err":1.74},{"phase":0.5078,"flux":-4.31,"err":1.73},{"phase":0.5099,"flux":-3.99,"err":1.85},{"phase":0.5119,"flux":-8.97,"err":1.73},{"phase":0.5140,"flux":-4.28,"err":1.73},{"phase":0.5162,"flux":-3.56,"err":1.73},{"phase":0.5184,"flux":-5.74,"err":1.73},{"phase":0.5205,"flux":-5.11,"err":1.73},{"phase":0.5226,"flux":-8.08,"err":1.73},{"phase":0.5247,"flux":-6.14,"err":1.74},{"phase":0.5268,"flux":-4.81,"err":1.85},{"phase":0.5290,"flux":-3.91,"err":1.74},{"phase":0.5310,"flux":0.17,"err":1.74},{"phase":0.5331,"flux":-0.60,"err":1.73},{"phase":0.5352,"flux":-0.96,"err":1.74},{"phase":0.5374,"flux":2.69,"err":1.74},{"phase":0.5396,"flux":-1.15,"err":1.73},{"phase":0.5417,"flux":-2.24,"err":1.79},{"phase":0.5437,"flux":0.49,"err":1.73},{"phase":0.5458,"flux":-0.54,"err":1.74},{"phase":0.5479,"flux":-1.61,"err":1.73},{"phase":0.5501,"flux":0.79,"err":1.73},{"phase":0.5522,"flux":-0.12,"err":1.73},{"phase":0.5543,"flux":-3.20,"err":1.75},{"phase":0.5564,"flux":-3.03,"err":1.74},{"phase":0.5586,"flux":-2.30,"err":1.86},{"phase":0.5607,"flux":0.75,"err":1.73},{"phase":0.5628,"flux":1.66,"err":1.73},{"phase":0.5649,"flux":0.47,"err":1.74},{"phase":0.5670,"flux":-2.10,"err":1.73},{"phase":0.5692,"flux":1.16,"err":1.72},{"phase":0.5713,"flux":-2.14,"err":1.74},{"phase":0.5734,"flux":0.23,"err":1.73},{"phase":0.5755,"flux":1.89,"err":1.85},{"phase":0.5776,"flux":-1.37,"err":1.74},{"phase":0.5798,"flux":0.59,"err":1.75},{"phase":0.5819,"flux":0.52,"err":1.74},{"phase":0.5840,"flux":1.26,"err":1.75},{"phase":0.5861,"flux":0.44,"err":1.74},{"phase":0.5882,"flux":-1.65,"err":1.74},{"phase":0.5904,"flux":0.06,"err":1.73}
],
"model":[
{"phase":0.3796,"flux":-0.345},{"phase":0.4635,"flux":-0.345},{"phase":0.4649,"flux":-0.586},{"phase":0.4664,"flux":-1.148},{"phase":0.4722,"flux":-4.278},{"phase":0.4739,"flux":-4.952},{"phase":0.4756,"flux":-5.161},{"phase":0.5223,"flux":-5.161},{"phase":0.5239,"flux":-4.920},{"phase":0.5310,"flux":-1.389},{"phase":0.5329,"flux":-0.442},{"phase":0.5346,"flux":-0.345},{"phase":0.5912,"flux":-0.345}
]
},
"vconcat":[
{"width":830,"height":623,
"resolve":{"axis":{"x":"independent","y":"independent"}},
"layer":[
{"data":{"name":"top"},"mark":{"type":"circle","size":66,"color":"black","opacity":1},
"encoding":{
"x":{"field":"phase","type":"quantitative","scale":{"domain":[0.37,0.61],"nice":false,"zero":false},"axis":{"orient":"bottom","title":null,"tickSize":-6.5,"values":[0.38,0.39,0.4,0.41,0.42,0.43,0.44,0.45,0.46,0.47,0.48,0.49,0.5,0.51,0.52,0.53,0.54,0.55,0.56,0.57,0.58,0.59,0.6]}},
"y":{"field":"flux","type":"quantitative","scale":{"domain":[-15,15],"nice":false,"zero":false},"axis":{"orient":"left","title":null,"tickSize":-8,"values":[-14.5,-14,-13.5,-13,-12.5,-12,-11.5,-11,-10.5,-10,-9.5,-9,-8.5,-8,-7.5,-7,-6.5,-6,-5.5,-5,-4.5,-4,-3.5,-3,-2.5,-2,-1.5,-1,-0.5,0,0.5,1,1.5,2,2.5,3,3.5,4,4.5,5,5.5,6,6.5,7,7.5,8,8.5,9,9.5,10,10.5,11,11.5,12,12.5,13,13.5,14,14.5]}}}},
{"data":{"name":"red"},"mark":{"type":"line","color":"#ff0000","strokeWidth":3},
"encoding":{
"x":{"field":"phase","type":"quantitative","scale":{"domain":[0.37,0.61],"nice":false,"zero":false},"axis":{"orient":"bottom","title":null,"tickSize":-13,"values":[0.4,0.45,0.5,0.55,0.6]}},
"y":{"field":"flux","type":"quantitative","scale":{"domain":[-15,15],"nice":false,"zero":false},"axis":{"orient":"left","title":null,"tickSize":-16,"values":[-10,-5,0,5,10]}}}},
{"data":{"values":[{"label":"4.5 Microns","phase":0.5225,"flux":11.09}]},"mark":{"type":"text","font":"Liberation Serif","fontSize":33,"align":"center","baseline":"alphabetic","color":"black"},
"encoding":{
"text":{"field":"label"},
"x":{"field":"phase","type":"quantitative","scale":{"domain":[0.37,0.61],"nice":false,"zero":false},"axis":{"orient":"top","title":null,"tickSize":-6.5,"values":[0.38,0.39,0.4,0.41,0.42,0.43,0.44,0.45,0.46,0.47,0.48,0.49,0.5,0.51,0.52,0.53,0.54,0.55,0.56,0.57,0.58,0.59,0.6]}},
"y":{"field":"flux","type":"quantitative","scale":{"domain":[-15,15],"nice":false,"zero":false},"axis":{"orient":"right","title":null,"tickSize":-8,"values":[-14.5,-14,-13.5,-13,-12.5,-12,-11.5,-11,-10.5,-10,-9.5,-9,-8.5,-8,-7.5,-7,-6.5,-6,-5.5,-5,-4.5,-4,-3.5,-3,-2.5,-2,-1.5,-1,-0.5,0,0.5,1,1.5,2,2.5,3,3.5,4,4.5,5,5.5,6,6.5,7,7.5,8,8.5,9,9.5,10,10.5,11,11.5,12,12.5,13,13.5,14,14.5]}}}},
{"data":{"name":"red"},"mark":{"type":"point","opacity":0},
"encoding":{
"x":{"field":"phase","type":"quantitative","scale":{"domain":[0.37,0.61],"nice":false,"zero":false},"axis":{"orient":"top","title":null,"tickSize":-13,"values":[0.4,0.45,0.5,0.55,0.6]}},
"y":{"field":"flux","type":"quantitative","scale":{"domain":[-15,15],"nice":false,"zero":false},"axis":{"orient":"right","title":null,"tickSize":-16,"values":[-10,-5,0,5,10]}}}}
]},
{"width":830,"height":623,
"resolve":{"axis":{"x":"independent","y":"independent"}},
"layer":[
{"data":{"name":"bins"},"mark":{"type":"errorbar","color":"black","ticks":{"size":8,"thickness":1.8,"color":"black"},"rule":{"strokeWidth":2,"color":"black"}},
"encoding":{
"x":{"field":"phase","type":"quantitative","scale":{"domain":[0.37,0.61],"nice":false,"zero":false},"axis":null},
"y":{"field":"flux","type":"quantitative","scale":{"domain":[-15,15],"nice":false,"zero":false},"axis":null},
"yError":{"field":"err"}}},
{"data":{"name":"bins"},"mark":{"type":"circle","size":66,"color":"black","opacity":1},
"encoding":{
"x":{"field":"phase","type":"quantitative","scale":{"domain":[0.37,0.61],"nice":false,"zero":false},"axis":{"orient":"bottom","title":null,"tickSize":-6.5,"values":[0.38,0.39,0.4,0.41,0.42,0.43,0.44,0.45,0.46,0.47,0.48,0.49,0.5,0.51,0.52,0.53,0.54,0.55,0.56,0.57,0.58,0.59,0.6]}},
"y":{"field":"flux","type":"quantitative","scale":{"domain":[-15,15],"nice":false,"zero":false},"axis":{"orient":"left","title":null,"tickSize":-8,"values":[-14,-13,-12,-11,-10,-9,-8,-7,-6,-5,-4,-3,-2,-1,0,1,2,3,4,5,6,7,8,9,10,11,12,13,14]}}}},
{"data":{"name":"model"},"mark":{"type":"line","color":"#0000ff","strokeWidth":3},
"encoding":{
"x":{"field":"phase","type":"quantitative","scale":{"domain":[0.37,0.61],"nice":false,"zero":false},"axis":{"orient":"bottom","title":null,"tickSize":-13,"values":[0.4,0.45,0.5,0.55,0.6]}},
"y":{"field":"flux","type":"quantitative","scale":{"domain":[-15,15],"nice":false,"zero":false},"axis":{"orient":"left","title":null,"tickSize":-16,"values":[-10,-5,0,5,10]}}}},
{"data":{"values":[{"label":"Eclipse depth = 0.482%±0.042%","phase":0.4946,"flux":10.23}]},"mark":{"type":"text","font":"Liberation Serif","fontSize":33,"align":"center","baseline":"alphabetic","color":"black"},
"encoding":{
"text":{"field":"label"},
"x":{"field":"phase","type":"quantitative","scale":{"domain":[0.37,0.61],"nice":false,"zero":false},"axis":{"orient":"top","title":null,"tickSize":-6.5,"values":[0.38,0.39,0.4,0.41,0.42,0.43,0.44,0.45,0.46,0.47,0.48,0.49,0.5,0.51,0.52,0.53,0.54,0.55,0.56,0.57,0.58,0.59,0.6]}},
"y":{"field":"flux","type":"quantitative","scale":{"domain":[-15,15],"nice":false,"zero":false},"axis":{"orient":"right","title":null,"tickSize":-8,"values":[-14,-13,-12,-11,-10,-9,-8,-7,-6,-5,-4,-3,-2,-1,0,1,2,3,4,5,6,7,8,9,10,11,12,13,14]}}}},
{"data":{"name":"model"},"mark":{"type":"point","opacity":0},
"encoding":{
"x":{"field":"phase","type":"quantitative","scale":{"domain":[0.37,0.61],"nice":false,"zero":false},"axis":{"orient":"top","title":null,"tickSize":-13,"values":[0.4,0.45,0.5,0.55,0.6]}},
"y":{"field":"flux","type":"quantitative","scale":{"domain":[-15,15],"nice":false,"zero":false},"axis":{"orient":"right","title":null,"tickSize":-16,"values":[-10,-5,0,5,10]}}}}
]}
]
}
